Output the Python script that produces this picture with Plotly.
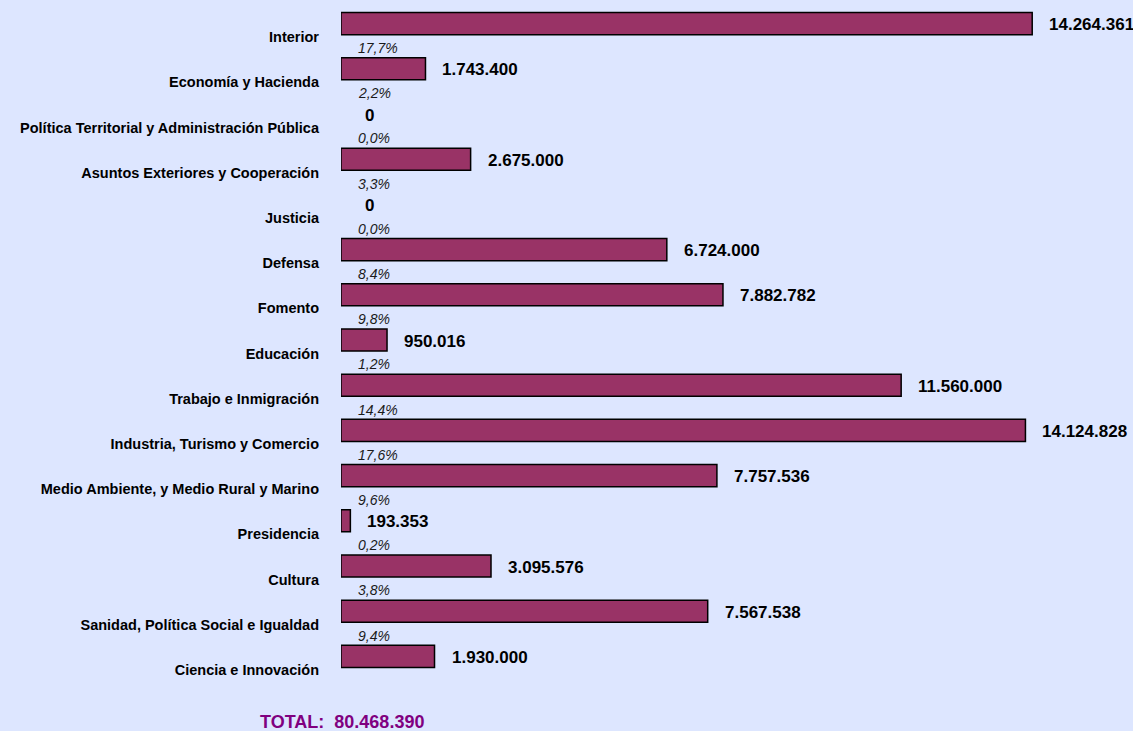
import plotly.graph_objects as go

categories = [
    "Interior",
    "Economía y Hacienda",
    "Política Territorial y Administración Pública",
    "Asuntos Exteriores y Cooperación",
    "Justicia",
    "Defensa",
    "Fomento",
    "Educación",
    "Trabajo e Inmigración",
    "Industria, Turismo y Comercio",
    "Medio Ambiente, y Medio Rural y Marino",
    "Presidencia",
    "Cultura",
    "Sanidad, Política Social e Igualdad",
    "Ciencia e Innovación",
]
values = [14264361, 1743400, 0, 2675000, 0, 6724000, 7882782, 950016,
          11560000, 14124828, 7757536, 193353, 3095576, 7567538, 1930000]
percents = ["17,7%", "2,2%", "0,0%", "3,3%", "0,0%", "8,4%", "9,8%", "1,2%",
            "14,4%", "17,6%", "9,6%", "0,2%", "3,8%", "9,4%", "2,4%"]

def fmt(v):
    return f"{v:,}".replace(",", ".")

BG = "#DDE6FF"
BAR = "#993366"
n = len(categories)
pos = list(range(n))

fig = go.Figure()
fig.add_trace(go.Bar(
    x=values, y=pos, orientation="h", width=0.49,
    marker=dict(color=BAR, line=dict(color="#000000",
                                     width=[1.5 if v > 0 else 0 for v in values])),
    hoverinfo="skip",
))

annotations = []
for i, (v, p) in enumerate(zip(values, percents)):
    annotations.append(dict(
        x=v, y=i, xref="x", yref="y", text=f"<b>{fmt(v)}</b>",
        showarrow=False, xanchor="left", yanchor="middle",
        xshift=15 if v > 0 else 22, yshift=-1,
        font=dict(family="Liberation Sans, Arial", size=17, color="#000"),
    ))
    annotations.append(dict(
        x=0, y=i + 0.54, xref="x", yref="y", text=f"<i>{p}</i>",
        showarrow=False, xanchor="left", yanchor="middle", xshift=15,
        font=dict(family="Liberation Sans, Arial", size=14, color="#1a1a1a"),
    ))

total = sum(values)
annotations.append(dict(
    x=-0.1057, y=-0.0634, xref="paper", yref="paper",
    text=f"<b>TOTAL:&nbsp; {fmt(total)}</b>", showarrow=False,
    xanchor="left", yanchor="middle",
    font=dict(family="Liberation Sans, Arial", size=18, color="#800080"),
))

fig.update_layout(
    width=1133, height=731,
    margin=dict(l=341, r=7, t=1, b=52),
    paper_bgcolor=BG, plot_bgcolor=BG,
    showlegend=False,
    annotations=annotations,
    xaxis=dict(range=[0, 16.2e6], visible=False, fixedrange=True),
    yaxis=dict(
        range=[n - 0.5, -0.5],
        tickvals=[i + 0.3 for i in pos],
        ticktext=[f"<b>{c}</b>" for c in categories],
        ticks="", ticklabelstandoff=21,
        showgrid=False, zeroline=False, showline=False, fixedrange=True,
        tickfont=dict(family="Liberation Sans, Arial", size=14.5, color="#000"),
    ),
)

fig.write_html(
    "out.html",
    config={"displayModeBar": False},
    post_script="document.body.style.margin='0';document.body.style.background='" + BG + "';",
)
